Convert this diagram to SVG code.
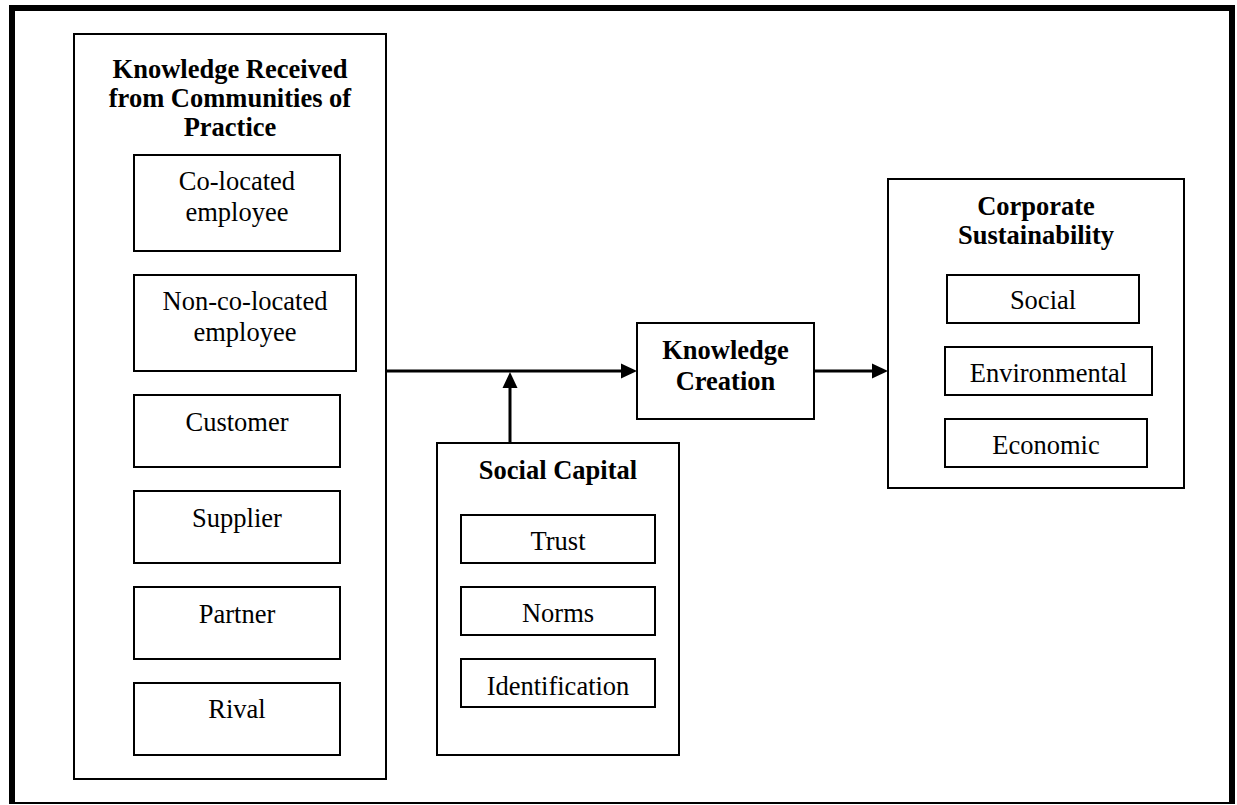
<svg xmlns="http://www.w3.org/2000/svg" width="1237" height="805" viewBox="0 0 1237 805">
  <style>
    .box { fill: #ffffff; stroke: #000000; stroke-width: 2; }
    .lbl { font-family: "Liberation Serif", "Times New Roman", serif; font-size: 26.5px; fill: #000000; text-anchor: middle; }
    .ttl { font-family: "Liberation Serif", "Times New Roman", serif; font-size: 26.5px; font-weight: bold; fill: #000000; text-anchor: middle; }
    .link { fill: none; stroke: #000000; stroke-width: 3; }
  </style>
  <defs>
    <marker id="arrow" markerUnits="userSpaceOnUse" markerWidth="16" markerHeight="16" viewBox="0 0 16 16" refX="5" refY="8" orient="auto">
      <path d="M0,0.5 L16,8 L0,15.5 z" fill="#000000"/>
    </marker>
  </defs>

  <rect x="0" y="0" width="1237" height="805" fill="#ffffff"/>

  <!-- page frame -->
  <g id="frame">
    <path d="M12,803 V8 H1232 V803" fill="none" stroke="#000000" stroke-width="6" stroke-linejoin="miter"/>
    <line x1="9" y1="803" x2="1235" y2="803" stroke="#000000" stroke-width="2"/>
  </g>

  <!-- knowledge sources -->
  <g id="communities">
    <rect class="box" x="74" y="34" width="312" height="745"/>
    <text class="ttl" x="230" y="78">Knowledge Received</text>
    <text class="ttl" x="230" y="107">from Communities of</text>
    <text class="ttl" x="230" y="136">Practice</text>
  </g>
  <g id="colocated">
    <rect class="box" x="134" y="155" width="206" height="96"/>
    <text class="lbl" x="237" y="190">Co-located</text>
    <text class="lbl" x="237" y="221">employee</text>
  </g>
  <g id="noncolocated">
    <rect class="box" x="134" y="275" width="222" height="96"/>
    <text class="lbl" x="245" y="310">Non-co-located</text>
    <text class="lbl" x="245" y="341">employee</text>
  </g>
  <g id="customer">
    <rect class="box" x="134" y="395" width="206" height="72"/>
    <text class="lbl" x="237" y="431">Customer</text>
  </g>
  <g id="supplier">
    <rect class="box" x="134" y="491" width="206" height="72"/>
    <text class="lbl" x="237" y="527">Supplier</text>
  </g>
  <g id="partner">
    <rect class="box" x="134" y="587" width="206" height="72"/>
    <text class="lbl" x="237" y="623">Partner</text>
  </g>
  <g id="rival">
    <rect class="box" x="134" y="683" width="206" height="72"/>
    <text class="lbl" x="237" y="718">Rival</text>
  </g>

  <!-- moderator -->
  <g id="social-capital">
    <rect class="box" x="437" y="443" width="242" height="312"/>
    <text class="ttl" x="558" y="479">Social Capital</text>
  </g>
  <g id="trust">
    <rect class="box" x="461" y="515" width="194" height="48"/>
    <text class="lbl" x="558" y="550">Trust</text>
  </g>
  <g id="norms">
    <rect class="box" x="461" y="587" width="194" height="48"/>
    <text class="lbl" x="558" y="622">Norms</text>
  </g>
  <g id="identification">
    <rect class="box" x="461" y="659" width="194" height="48"/>
    <text class="lbl" x="558" y="695">Identification</text>
  </g>

  <!-- mediator -->
  <g id="knowledge-creation">
    <rect class="box" x="637" y="323" width="177" height="96"/>
    <text class="ttl" x="725.5" y="359">Knowledge</text>
    <text class="ttl" x="725.5" y="390">Creation</text>
  </g>

  <!-- outcome -->
  <g id="corporate-sustainability">
    <rect class="box" x="888" y="179" width="296" height="309"/>
    <text class="ttl" x="1036" y="215">Corporate</text>
    <text class="ttl" x="1036" y="244">Sustainability</text>
  </g>
  <g id="social">
    <rect class="box" x="947" y="275" width="192" height="48"/>
    <text class="lbl" x="1043" y="309">Social</text>
  </g>
  <g id="environmental">
    <rect class="box" x="945" y="347" width="207" height="48"/>
    <text class="lbl" x="1048.5" y="382">Environmental</text>
  </g>
  <g id="economic">
    <rect class="box" x="945" y="419" width="202" height="48"/>
    <text class="lbl" x="1046" y="454">Economic</text>
  </g>

  <!-- connectors -->
  <g id="connectors">
    <line class="link" x1="386" y1="371" x2="626" y2="371" marker-end="url(#arrow)"/>
    <line class="link" x1="510" y1="443" x2="510" y2="383" marker-end="url(#arrow)"/>
    <line class="link" x1="814" y1="371" x2="877" y2="371" marker-end="url(#arrow)"/>
  </g>
</svg>
